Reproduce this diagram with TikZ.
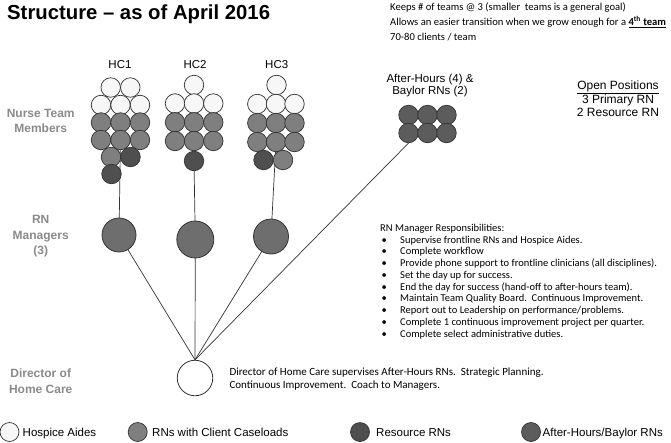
\documentclass[tikz,border=0pt]{standalone}
\usepackage{fontspec}
\setmainfont{Liberation Sans}
\newfontfamily\calibri{Carlito}
\usetikzlibrary{backgrounds}

\definecolor{aidefill}{HTML}{F7F7F7}
\definecolor{rnfill}{HTML}{7F7F7F}
\definecolor{resfill}{HTML}{4F4F4F}
\definecolor{ahfill}{HTML}{5C5C5C}
\definecolor{mgrfill}{HTML}{6E6E6E}
\definecolor{rimgray}{HTML}{333333}
\definecolor{lblgray}{HTML}{8A8A8A}

\tikzset{
	member/.style={circle, draw=rimgray, line width=0.7pt, minimum size=19.5pt, inner sep=0pt},
	aide/.style={member, fill=aidefill},
	rn/.style={member, fill=rnfill},
	res/.style={member, fill=resfill},
	ah/.style={member, fill=ahfill},
	mgr/.style={circle, draw=rimgray, line width=0.8pt, fill=mgrfill, inner sep=0pt},
	rowlabel/.style={font=\fontsize{12}{15.5}\selectfont\bfseries, text=lblgray, align=center},
	link/.style={draw=rimgray, line width=0.7pt},
	note/.style={anchor=base west, inner sep=0pt, align=left, font=\calibri\fontsize{10.5}{11.75}\selectfont},
	legtext/.style={anchor=base west, inner sep=0pt, font=\fontsize{11.5}{13}\selectfont},
}

\begin{document}
\begin{tikzpicture}[x=1pt, y=-1pt]
	\useasboundingbox (0,0) rectangle (671,442);
	\node[anchor=base west, inner sep=0pt, font=\fontsize{20.3}{22}\selectfont\bfseries] (title) at (7,19.5) {Structure \textendash\ as of April 2016};
	% base of a multi-line note is its last line
	\node[note, font=\calibri\fontsize{10.6}{15}\selectfont] (goal) at (390,40.5) {Keeps \# of teams @ 3 (smaller\ \ teams is a general goal)\\
		Allows an easier transition when we grow enough for a \underline{\textbf{4\textsuperscript{th} team}}\\
		70-80 clients / team};

	% row labels
	\node[rowlabel] (lnurse) at (40.7,120.8) {Nurse Team\\Members};
	\node[rowlabel] (lmgr) at (40.7,236.3) {RN\\Managers\\(3)};
	\node[rowlabel] (ldir) at (40.7,381) {Director of\\Home Care};

	% team headings
	\node[font=\fontsize{11.5}{13}\selectfont] (hc1) at (120,65) {HC1};
	\node[font=\fontsize{11.5}{13}\selectfont] (hc2) at (195,65) {HC2};
	\node[font=\fontsize{11.5}{13}\selectfont] (hc3) at (276.7,65) {HC3};
	\node[font=\fontsize{11.5}{12.4}\selectfont, align=center] (ahlabel) at (430,85.5) {After-Hours (4) \&\\Baylor RNs (2)};
	\node[font=\fontsize{12}{13.6}\selectfont, align=center] (open) at (618,98.8) {\underline{Open Positions}\\3 Primary RN\\2 Resource RN};

	% HC1
	\node[aide] (t1-1) at (110.7,87.5) {}; \node[aide] (t1-2) at (130.3,87.5) {};
	\node[aide] (t1-3) at (101,105) {}; \node[aide] (t1-4) at (120.5,105) {}; \node[aide] (t1-5) at (140,105) {};
	\node[rn] (t1-6) at (101,122.5) {}; \node[rn] (t1-7) at (120.5,122.5) {}; \node[rn] (t1-8) at (140,122.5) {};
	\node[rn] (t1-9) at (101,140) {}; \node[rn] (t1-10) at (120.5,140) {}; \node[rn] (t1-11) at (140,140) {};
	\node[rn] (t1-12) at (111,157) {}; \node[res] (t1-13) at (130.5,157) {};
	\node[res] (t1-14) at (111.5,174) {};

	% HC2
	\node[aide] (t2-1) at (194,85) {};
	\node[aide] (t2-2) at (175,103.5) {}; \node[aide] (t2-3) at (194,103.5) {}; \node[aide] (t2-4) at (213.3,103.5) {};
	\node[rn] (t2-5) at (175,122.3) {}; \node[rn] (t2-6) at (194,122.3) {}; \node[rn] (t2-7) at (213.3,122.3) {};
	\node[rn] (t2-8) at (175,141) {}; \node[rn] (t2-9) at (194,141) {}; \node[rn] (t2-10) at (213.3,141) {};
	\node[res] (t2-11) at (194,161) {};

	% HC3
	\node[aide] (t3-1) at (276.5,85) {};
	\node[aide] (t3-2) at (257.3,104) {}; \node[aide] (t3-3) at (276,104) {}; \node[aide] (t3-4) at (294.5,104) {};
	\node[rn] (t3-5) at (257.3,123) {}; \node[rn] (t3-6) at (276,123) {}; \node[rn] (t3-7) at (294.5,123) {};
	\node[rn] (t3-8) at (257.3,142) {}; \node[rn] (t3-9) at (276,142) {}; \node[rn] (t3-10) at (294.5,142) {};
	\node[res] (t3-11) at (263.5,160) {}; \node[rn] (t3-12) at (283,160) {};

	% after-hours / baylor
	\node[ah] (a-1) at (408.5,115) {}; \node[ah] (a-2) at (427.5,115) {}; \node[ah] (a-3) at (446.5,115) {};
	\node[ah] (a-4) at (408.5,133) {}; \node[ah] (a-5) at (427.5,133) {}; \node[ah] (a-6) at (446.5,133) {};

	% managers and director
	\node[mgr, minimum size=34pt] (m1) at (119,235) {};
	\node[mgr, minimum size=37pt] (m2) at (195.3,239.5) {};
	\node[mgr, minimum size=35pt] (m3) at (271,236.5) {};
	\node[mgr, fill=white, minimum size=35.5pt] (dir) at (195,378) {};

	\begin{scope}[on background layer]
		\draw[link] (t1-10.center) -- (m1.center);
		\draw[link] (t2-11.center) -- (m2.center);
		\draw[link] (t3-9.center) -- (m3.center);
		\draw[link] (m1.center) -- (dir.north);
		\draw[link] (m2.center) -- (dir.north);
		\draw[link] (m3.center) -- (dir.north);
		\draw[link] (a-4.south) -- (dir.north);
	\end{scope}

	\node[note] (duties) at (380,337) {RN Manager Responsibilities:\\
		\hspace{1.5pt}\makebox[18.5pt][l]{\textbullet}Supervise frontline RNs and Hospice Aides.\\
		\hspace{1.5pt}\makebox[18.5pt][l]{\textbullet}Complete workflow\\
		\hspace{1.5pt}\makebox[18.5pt][l]{\textbullet}Provide phone support to frontline clinicians (all disciplines).\\
		\hspace{1.5pt}\makebox[18.5pt][l]{\textbullet}Set the day up for success.\\
		\hspace{1.5pt}\makebox[18.5pt][l]{\textbullet}End the day for success (hand-off to after-hours team).\\
		\hspace{1.5pt}\makebox[18.5pt][l]{\textbullet}Maintain Team Quality Board.\ \ Continuous Improvement.\\
		\hspace{1.5pt}\makebox[18.5pt][l]{\textbullet}Report out to Leadership on performance/problems.\\
		\hspace{1.5pt}\makebox[18.5pt][l]{\textbullet}Complete 1 continuous improvement project per quarter.\\
		\hspace{1.5pt}\makebox[18.5pt][l]{\textbullet}Complete select administrative duties.};
	\node[note, font=\calibri\fontsize{11}{12.7}\selectfont] (dirnote) at (229.3,388.2) {Director of Home Care supervises After-Hours RNs.\ \ Strategic Planning.\\
		Continuous Improvement.\ \ Coach to Managers.};

	% legend
	\node[aide, minimum size=19pt] (k1) at (9.5,432) {};
	\node[legtext] (k1t) at (22.5,436) {Hospice Aides};
	\node[rn, minimum size=19pt] (k2) at (137.7,432) {};
	\node[legtext] (k2t) at (152,436) {RNs with Client Caseloads};
	\node[res, minimum size=19pt] (k3) at (360,432) {};
	\node[legtext] (k3t) at (376,436) {Resource RNs};
	\node[ah, minimum size=19pt] (k4) at (531,432) {};
	\node[legtext] (k4t) at (542.5,436) {After-Hours/Baylor RNs};
\end{tikzpicture}
\end{document}
